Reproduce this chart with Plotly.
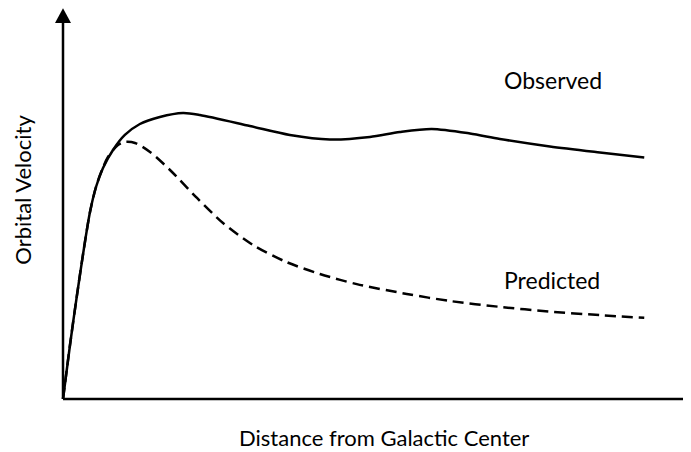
import plotly.graph_objects as go

# Data (arbitrary units)
obs_x = [0, 0.112, 0.224, 0.336, 0.432, 0.528, 0.64, 0.80, 0.99, 1.23, 1.55, 1.92, 2.19, 2.99, 3.63, 4.27, 4.91, 5.39, 5.90, 6.51, 6.99, 7.79, 8.59, 9.30]
obs_y = [0, 1.378, 2.653, 3.852, 4.770, 5.408, 5.893, 6.352, 6.735, 7.015, 7.194, 7.296, 7.245, 6.964, 6.735, 6.620, 6.684, 6.811, 6.888, 6.773, 6.633, 6.441, 6.288, 6.161]

pred_x = [0, 0.112, 0.224, 0.336, 0.432, 0.528, 0.624, 0.72, 0.88, 0.992, 1.152, 1.392, 1.712, 2.144, 2.56, 3.04, 3.58, 4.11, 4.70, 5.50, 6.19, 6.99, 7.79, 8.59, 9.30]
pred_y = [0, 1.378, 2.653, 3.852, 4.770, 5.408, 5.842, 6.173, 6.480, 6.556, 6.531, 6.301, 5.842, 5.128, 4.490, 3.929, 3.49, 3.19, 2.93, 2.68, 2.50, 2.35, 2.23, 2.14, 2.07]

series_labels = ["Observed", "Predicted"]
x_title = "Distance from Galactic Center"
y_title = "Orbital Velocity"

FONT = "Lato, Carlito, Calibri, sans-serif"

fig = go.Figure()
fig.add_trace(go.Scatter(x=obs_x, y=obs_y, mode="lines",
                         line=dict(color="black", width=2.5, shape="spline", smoothing=0.8),
                         name=series_labels[0], hoverinfo="skip"))
fig.add_trace(go.Scatter(x=pred_x, y=pred_y, mode="lines",
                         line=dict(color="black", width=2.5, shape="spline", smoothing=0.8, dash="11px,6px"),
                         name=series_labels[1], hoverinfo="skip"))

# axes with arrows
fig.add_shape(type="line", x0=0, y0=0, x1=0, y1=9.7, line=dict(color="black", width=2.5))
fig.add_shape(type="line", x0=0, y0=0, x1=9.95, y1=0, line=dict(color="black", width=2.5))
fig.add_shape(type="path", path="M -0.128,9.59 L 0.128,9.59 L 0,9.97 Z",
              fillcolor="black", line=dict(color="black", width=0))
fig.add_shape(type="path", path="M 9.92,-0.19 L 9.92,0.19 L 10.045,0 Z",
              fillcolor="black", line=dict(color="black", width=0))

fig.add_annotation(x=7.84, y=8.14, text=series_labels[0], showarrow=False,
                   font=dict(family=FONT, size=23, color="black"))
fig.add_annotation(x=7.82, y=3.04, text=series_labels[1], showarrow=False,
                   font=dict(family=FONT, size=23, color="black"))
fig.add_annotation(x=5.13, y=-0.97, text=x_title, showarrow=False,
                   font=dict(family=FONT, size=22, color="black"))
fig.add_annotation(x=-0.65, y=5.35, text=y_title, showarrow=False, textangle=-90,
                   font=dict(family=FONT, size=22, color="black"))

# page has an 8px body margin: the figure is drawn 8px in from the window corner
fig.update_layout(
    width=683, height=444,
    margin=dict(l=0, r=0, t=0, b=0),
    paper_bgcolor="white", plot_bgcolor="white",
    showlegend=False,
    xaxis=dict(range=[-0.88, 10.048], visible=False, fixedrange=True),
    yaxis=dict(range=[-1.352, 9.974], visible=False, fixedrange=True),
)

fig.write_html("out.html")
